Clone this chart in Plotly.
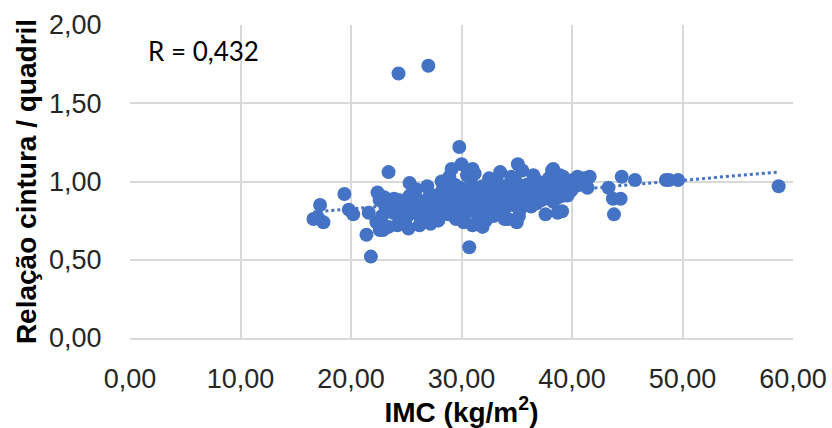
import numpy as np
import plotly.graph_objects as go

# Índice de massa corporal (kg/m²) e relação cintura/quadril de cada participante
imc = [
    16.6, 17.2, 17.5, 17.0, 19.4, 19.8, 20.2, 21.6, 21.4, 21.8, 22.6, 23.4, 25.3, 22.4, 22.9,
    24.3, 27.0, 29.8, 30.7,
    22.3, 22.8, 23.1, 22.6, 23.4, 23.0,
    23.8, 24.1, 24.4, 23.9, 24.6, 24.2, 24.4,
    24.8, 25.1, 25.3, 24.9, 25.5, 25.2, 25.6,
    25.8, 26.1, 26.3, 25.9, 26.5, 26.2, 26.6,
    26.8, 27.1, 27.3, 26.9, 27.5, 27.2, 27.6,
    27.8, 28.1, 28.3, 27.9, 28.5, 28.2, 28.0, 28.6,
    28.8, 29.1, 29.3, 28.9, 29.5, 29.2, 29.4, 29.6,
    29.8, 30.1, 30.3, 29.9, 30.5, 30.2, 30.0, 29.1, 31.0, 30.4, 30.6,
    30.8, 31.1, 31.3, 30.9, 31.5, 31.2, 31.0, 31.9, 31.4, 31.6,
    31.8, 32.1, 32.3, 31.9, 32.5, 32.2, 32.0, 32.4, 32.7,
    32.8, 33.1, 33.3, 32.9, 33.5, 33.2, 33.0, 33.9, 33.4, 33.6,
    33.8, 34.1, 34.3, 33.9, 34.5, 34.2, 34.0, 34.4, 34.6,
    34.8, 35.1, 35.3, 34.9, 35.5, 35.2, 35.0, 35.1, 35.0, 35.4, 35.6,
    35.8, 36.1, 36.3, 35.9, 36.5, 36.2, 36.0, 36.4, 36.6,
    36.8, 37.1, 37.3, 36.9, 37.5, 37.2, 37.6, 37.4, 37.6,
    37.8, 38.1, 38.3, 37.9, 38.5, 38.2, 38.3, 38.7, 38.4, 38.6,
    38.8, 39.1, 39.3, 38.9, 39.5, 39.1, 39.4, 39.6,
    39.8, 40.1, 40.3, 39.9, 40.5, 39.2, 40.4,
    40.8, 41.1, 41.4, 41.6, 40.9,
    43.3, 44.5, 43.7, 44.4, 43.8, 45.7, 48.5, 48.8, 49.6, 58.7,
]
rcq = [
    0.76, 0.85, 0.74, 0.77, 0.92, 0.82, 0.79, 0.80, 0.66, 0.52, 0.69, 1.06, 0.99, 0.93, 0.69,
    1.69, 1.74, 1.22, 0.58,
    0.74, 0.78, 0.84, 0.88, 0.71, 0.90,
    0.80, 0.84, 0.75, 0.89, 0.80, 0.72, 0.88,
    0.86, 0.78, 0.91, 0.74, 0.83, 0.70, 0.90,
    0.80, 0.88, 0.76, 0.95, 0.85, 0.72, 0.80,
    0.82, 0.91, 0.77, 0.97, 0.86, 0.73, 0.91,
    0.80, 0.89, 0.95, 0.75, 0.84, 1.00, 0.86, 0.91,
    0.79, 0.86, 0.93, 1.03, 0.76, 0.82, 0.98, 0.88,
    0.84, 0.90, 0.79, 0.96, 1.04, 0.74, 1.11, 1.08, 1.08, 0.85, 0.93,
    0.82, 0.88, 0.94, 0.99, 0.77, 1.05, 0.72, 0.71, 0.82, 0.91,
    0.85, 0.91, 0.80, 0.97, 1.02, 0.75, 0.88, 0.86, 0.94,
    0.83, 0.89, 0.95, 0.78, 1.06, 1.00, 0.86, 0.76, 0.84, 0.91,
    0.81, 0.92, 0.87, 0.97, 1.03, 0.76, 0.84, 0.95, 0.85,
    0.90, 0.95, 0.82, 1.00, 1.07, 0.78, 0.86, 1.11, 0.74, 0.91, 0.96,
    0.88, 0.93, 0.84, 0.98, 1.04, 0.85, 0.91, 0.89, 0.95,
    0.86, 0.95, 0.90, 1.00, 0.89, 0.88, 0.79, 0.93, 0.98,
    0.92, 0.97, 0.87, 1.02, 0.94, 1.07, 1.08, 0.80, 0.90, 0.99,
    0.90, 0.99, 0.91, 1.04, 0.95, 0.81, 0.98, 0.91,
    0.97, 1.01, 0.97, 0.94, 1.03, 1.03, 0.99,
    0.98, 1.02, 0.96, 1.03, 0.99,
    0.96, 1.03, 0.89, 0.89, 0.79, 1.01, 1.01, 1.01, 1.01, 0.97,
]

x_ticks = [0, 10, 20, 30, 40, 50, 60]
y_ticks = [0.0, 0.5, 1.0, 1.5, 2.0]
r_label = "R = 0,432"

blue = "#4472C4"
grid = "#D9D9D9"

# Linear trendline fitted by least squares over the observed range
slope, intercept = np.polyfit(imc, rcq, 1)
x_fit = np.array([min(imc), max(imc)])
y_fit = intercept + slope * x_fit

fig = go.Figure()
fig.add_trace(go.Scatter(
    x=imc, y=rcq, mode="markers",
    marker=dict(color=blue, size=14, line=dict(width=0)),
    showlegend=False, hoverinfo="x+y",
))
fig.add_trace(go.Scatter(
    x=x_fit, y=y_fit, mode="lines",
    line=dict(color=blue, width=3, dash="dot"),
    showlegend=False, hoverinfo="skip",
))

tick_font = dict(family="Liberation Sans, Arial, sans-serif", size=27, color="#262626")
title_font = dict(family="Liberation Sans, Arial, sans-serif", size=28, color="#000000")

fig.update_layout(
    width=832, height=428,
    margin=dict(l=130, r=39, t=25, b=90),
    paper_bgcolor="white", plot_bgcolor="white",
    separators=",.",
    xaxis=dict(
        range=[0, 60], tickvals=x_ticks, tickformat=".2f",
        showgrid=True, gridcolor=grid, gridwidth=2,
        showline=True, linecolor=grid, linewidth=2,
        zeroline=False, ticks="outside", ticklen=16, tickcolor="rgba(0,0,0,0)",
        tickfont=tick_font, automargin=False,
        title=dict(text="<b>IMC (kg/m<sup>2</sup>)</b>", font=title_font, standoff=4),
    ),
    yaxis=dict(
        range=[0, 2], tickvals=y_ticks, tickformat=".2f",
        showgrid=True, gridcolor=grid, gridwidth=2,
        zeroline=False, ticks="outside", ticklen=22, tickcolor="rgba(0,0,0,0)",
        tickfont=tick_font, automargin=False,
        title=dict(text="<b>Relação cintura / quadril</b>", font=title_font, standoff=4),
    ),
    annotations=[dict(
        x=0.024, y=0.975, xref="paper", yref="paper", xanchor="left", yanchor="top",
        text=r_label, showarrow=False,
        font=dict(family="Lato, Carlito, sans-serif", size=26, color="#000000"),
    )],
)

fig.write_html("out.html")
